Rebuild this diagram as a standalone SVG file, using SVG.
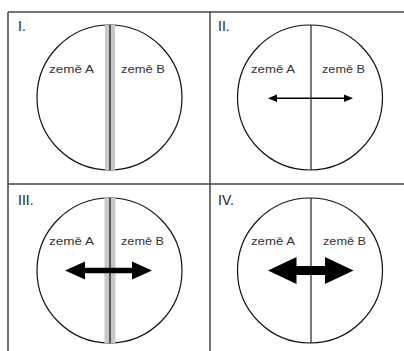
<svg xmlns="http://www.w3.org/2000/svg" width="404" height="351" viewBox="0 0 404 351">
<style>
.grid{stroke:#444;stroke-width:1.5;fill:none}
.circ{fill:#fff;stroke:#111;stroke-width:1.2}
.div{stroke:#222;stroke-width:1.2}
.band{fill:#c8c8c8}
.core{stroke:#555;stroke-width:2}
.lbl{font-family:"Liberation Sans",Arial,sans-serif;font-size:11px;fill:#333}
.num{font-family:"Liberation Sans",Arial,sans-serif;font-size:14px;fill:#222}
.arr{fill:#000}
</style>
<rect width="404" height="351" fill="#fff"/>
<g id="grid">
<line class="grid" x1="8" y1="12" x2="404" y2="12"/>
<line class="grid" x1="8" y1="12" x2="8" y2="351"/>
<line class="grid" x1="210" y1="12" x2="210" y2="351"/>
<line class="grid" x1="8" y1="184" x2="404" y2="184"/>
</g>
<g id="panel1">
<text class="num" x="18" y="31">I.</text>
<circle class="circ" cx="109.5" cy="97.5" r="72.5"/>
<rect class="band" x="105" y="25" width="10" height="145"/>
<line class="core" x1="110" y1="25" x2="110" y2="170"/>
<text class="lbl" x="49" y="73" textLength="45" lengthAdjust="spacingAndGlyphs">země A</text>
<text class="lbl" x="121" y="73" textLength="44" lengthAdjust="spacingAndGlyphs">země B</text>
</g>
<g id="panel2">
<text class="num" x="218" y="31">II.</text>
<circle class="circ" cx="310" cy="97.5" r="72.5"/>
<line class="div" x1="311" y1="25" x2="311" y2="170"/>
<text class="lbl" x="251" y="73" textLength="44" lengthAdjust="spacingAndGlyphs">země A</text>
<text class="lbl" x="322" y="73" textLength="43" lengthAdjust="spacingAndGlyphs">země B</text>
</g>
<g id="panel3">
<text class="num" x="18" y="205">III.</text>
<circle class="circ" cx="109.5" cy="270.5" r="72.5"/>
<rect class="band" x="104.5" y="198" width="11" height="145"/>
<line class="core" x1="110" y1="198" x2="110" y2="343"/>
<text class="lbl" x="49" y="245" textLength="45" lengthAdjust="spacingAndGlyphs">země A</text>
<text class="lbl" x="121" y="245" textLength="43" lengthAdjust="spacingAndGlyphs">země B</text>
</g>
<g id="panel4">
<text class="num" x="218" y="205">IV.</text>
<circle class="circ" cx="310" cy="270.5" r="72.5"/>
<line class="div" x1="311" y1="198" x2="311" y2="343"/>
<text class="lbl" x="251" y="245" textLength="44" lengthAdjust="spacingAndGlyphs">země A</text>
<text class="lbl" x="323" y="245" textLength="43" lengthAdjust="spacingAndGlyphs">země B</text>
</g>
<g id="connectors">
<path class="arr" d="M268,98.3 L277,94.5 L277,97.6 L344,97.6 L344,94.5 L353,98.3 L344,102.1 L344,99 L277,99 L277,102.1 Z"/>
<path class="arr" d="M65,270.5 L85,261.5 L85,267.8 L132,267.8 L132,261.5 L152,270.5 L132,279.5 L132,273.2 L85,273.2 L85,279.5 Z"/>
<path class="arr" d="M268,270.5 L296.5,257 L296.5,266 L325,266 L325,257 L353.5,270.5 L325,284 L325,275 L296.5,275 L296.5,284 Z"/>
</g>
</svg>
